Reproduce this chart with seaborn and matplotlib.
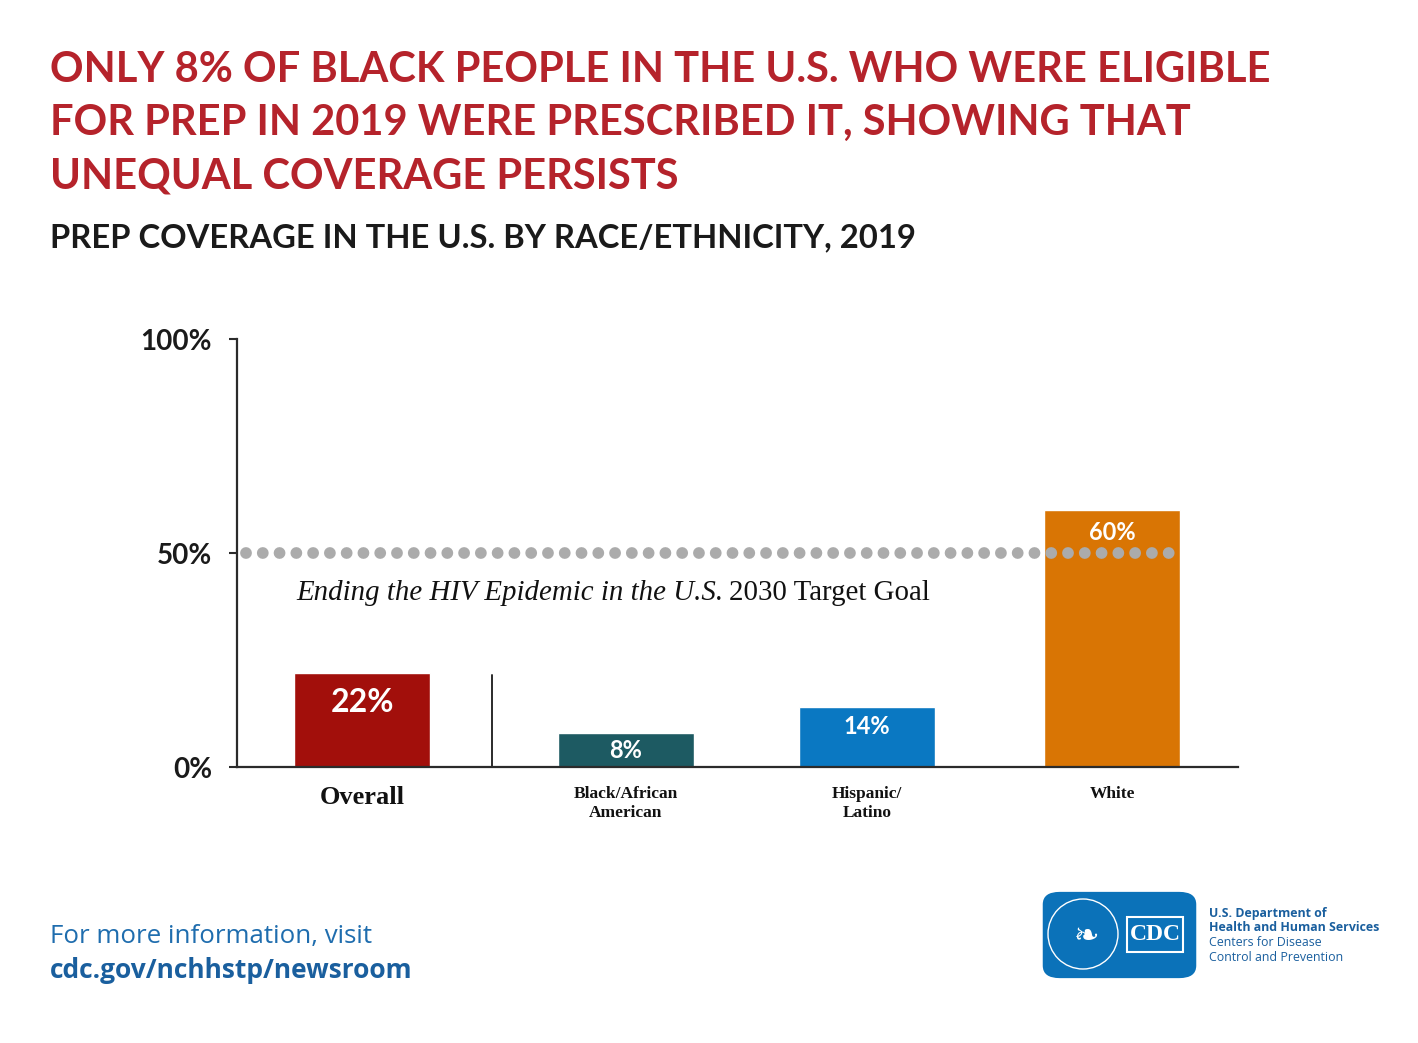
import matplotlib
matplotlib.use("Agg")
import matplotlib.pyplot as plt
import seaborn as sns
import pandas as pd
from matplotlib.patches import FancyBboxPatch, Rectangle, Ellipse

# ---- data ----
group_labels = ["Overall", "Black/African\nAmerican", "Hispanic/\nLatino", "White"]
coverage = [22, 8, 14, 60]
value_labels = ["22%", "8%", "14%", "60%"]
target_goal = 50
yticks = [0, 50, 100]
ytick_labels = ["0%", "50%", "100%"]

# ---- layout / style (not data) ----
bar_positions = [0.0, 1.056, 2.02, 3.0]
bar_colors = ["#A20F0B", "#1D5A62", "#0A78C2", "#D97504"]

df = pd.DataFrame({"group": group_labels, "coverage": coverage, "pos": bar_positions})

sns.set_style("white")
plt.rcParams["font.family"] = ["Lato", "DejaVu Sans"]

W, H = 1418, 1043
fig = plt.figure(figsize=(W / 100, H / 100), dpi=100)
fig.patch.set_facecolor("white")

def fx(px):
    return px / W

def fy(py):
    return 1 - py / H

ax = fig.add_axes([fx(237), fy(767), fx(1238) - fx(237), fy(339) - fy(767)])

sns.barplot(data=df, x="pos", y="coverage", hue="group", palette=bar_colors,
            saturation=1, width=0.564, legend=False, ax=ax, native_scale=True,
            hue_order=group_labels, dodge=False)

ax.set_xlim(-0.5, 3.504)
ax.set_ylim(0, 100)
ax.set_xlabel("")
ax.set_ylabel("")

# spines
for s in ["top", "right"]:
    ax.spines[s].set_visible(False)
for s in ["left", "bottom"]:
    ax.spines[s].set_color("#2b2b2b")
    ax.spines[s].set_linewidth(1.6)

ax.set_yticks(yticks)
ax.set_yticklabels(ytick_labels, fontsize=20, fontweight="bold", color="#1a1a1a")
ax.tick_params(axis="y", length=6, width=1.5, color="#2b2b2b", pad=12, left=True)

ax.set_xticks(bar_positions)
ax.set_xticklabels(group_labels, family=["Liberation Serif"], fontweight="bold",
                   color="#111111", linespacing=1.2)
ax.tick_params(axis="x", length=0, pad=14)
for i, lab in enumerate(ax.get_xticklabels()):
    lab.set_fontsize(19 if i == 0 else 12.5)

# value labels inside bars
label_sizes = [23, 17, 17, 17]
label_offsets = [30, 18, 19, 22]  # px below bar top
for pos, v, txt, sz, off in zip(bar_positions, coverage, value_labels, label_sizes, label_offsets):
    ax.annotate(txt, xy=(pos, v), xytext=(0, -off * 0.72),
                textcoords="offset points", ha="center", va="center",
                color="white", fontsize=sz, fontweight="bold")

# target goal dotted line
ax.axhline(target_goal, xmin=0.009, xmax=0.934, color="#ABABAB", lw=8.5,
           dashes=(0.001, 1.42), dash_capstyle="round", zorder=5)

# divider between overall and groups
ax.plot([0.52, 0.52], [0, coverage[0] - 0.5], color="#2b2b2b", lw=1.4)

# annotation: italic part + upright part
t1 = fig.text(fx(296), fy(593), "Ending the HIV Epidemic in the U.S.",
              family=["Liberation Serif"], style="italic", fontsize=20.8,
              ha="left", va="center", color="#111111")
fig.canvas.draw()
bb = t1.get_window_extent()
t2 = fig.text(bb.x1 / W + fx(6), fy(593), "2030 Target Goal",
              family=["Liberation Serif"], fontsize=20.8,
              ha="left", va="center", color="#111111")

# titles
title_lines = ["ONLY 8% OF BLACK PEOPLE IN THE U.S. WHO WERE ELIGIBLE",
               "FOR PREP IN 2019 WERE PRESCRIBED IT, SHOWING THAT",
               "UNEQUAL COVERAGE PERSISTS"]
for k, line in enumerate(title_lines):
    fig.text(fx(50), fy(70 + 53 * k), line, fontsize=30, fontweight="bold",
             color="#B5232B", ha="left", va="center")
fig.text(fx(50), fy(238), "PREP COVERAGE IN THE U.S. BY RACE/ETHNICITY, 2019",
         fontsize=23.6, fontweight="bold", color="#1a1a1a", ha="left", va="center")

# footer
fig.text(fx(50), fy(936), "For more information, visit", fontsize=18.6,
         color="#1F6DAE", ha="left", va="center", family=["Open Sans"])
fig.text(fx(50), fy(971), "cdc.gov/nchhstp/newsroom", fontsize=19,
         fontweight="bold", color="#1A5F9E", ha="left", va="center",
         family=["Open Sans"])

# logo
logo = FancyBboxPatch((fx(1047), fy(975)), fx(1192) - fx(1047), fy(895) - fy(975),
                      boxstyle="round,pad=0.003,rounding_size=0.012",
                      transform=fig.transFigure, facecolor="#0B72B9",
                      edgecolor="none")
fig.patches.append(logo)
seal = Ellipse((fx(1083), fy(934)), 70 / W, 70 / H, transform=fig.transFigure,
               facecolor="none", edgecolor="white", lw=1.0)
fig.patches.append(seal)
fig.text(fx(1086), fy(936), "\u2767", fontsize=22, color="white",
         ha="center", va="center", family=["DejaVu Sans"])
cdcbox = Rectangle((fx(1127), fy(952)), fx(1183) - fx(1127), fy(917) - fy(952),
                   transform=fig.transFigure, facecolor="none",
                   edgecolor="white", lw=1.5)
fig.patches.append(cdcbox)
fig.text(fx(1155), fy(935), "CDC", family=["Liberation Serif"], fontsize=17,
         fontweight="bold", color="white", ha="center", va="center")

logo_lines = [("U.S. Department of", "bold"),
              ("Health and Human Services", "bold"),
              ("Centers for Disease", "normal"),
              ("Control and Prevention", "normal")]
for k, (txt, w) in enumerate(logo_lines):
    fig.text(fx(1209), fy(913 + 14.7 * k), txt, fontsize=8.9, fontweight=w,
             color="#1A5F9E", ha="left", va="center", family=["Open Sans"])

fig.savefig("out.png", dpi=100, facecolor="white")
